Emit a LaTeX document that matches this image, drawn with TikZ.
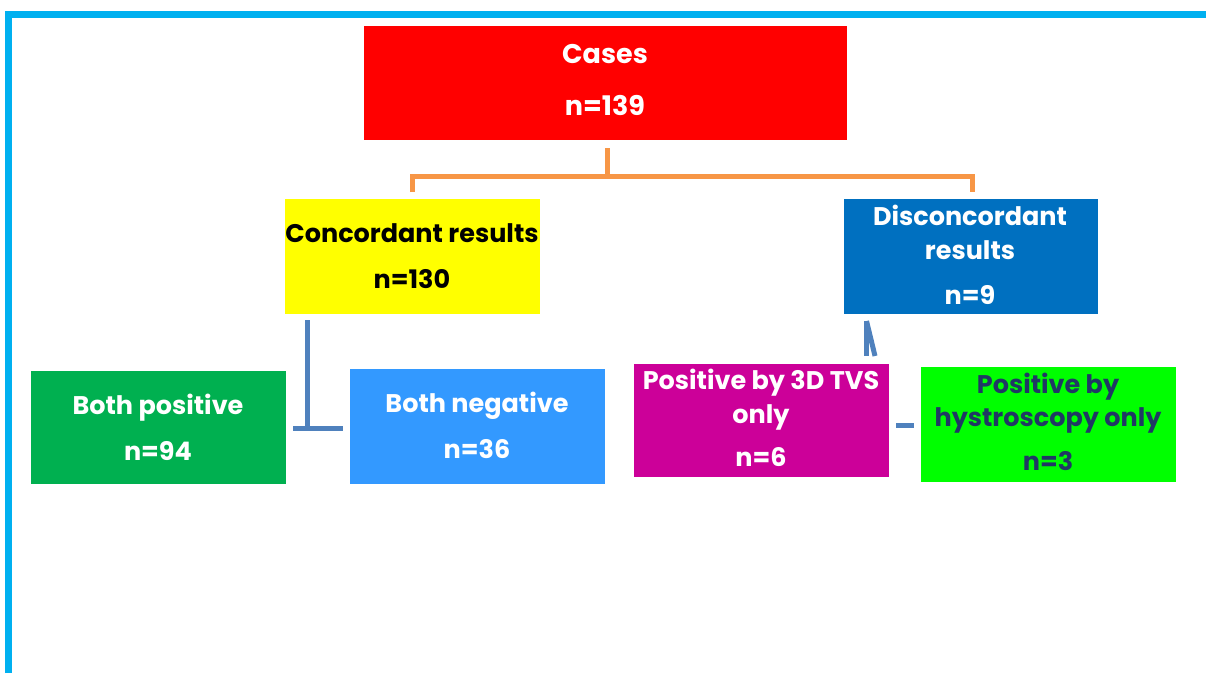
\documentclass[tikz,border=0pt]{standalone}
\usepackage{fontspec}
\setmainfont{Poppins}
\definecolor{frameblue}{HTML}{00B0F0}
\definecolor{casered}{HTML}{FF0000}
\definecolor{concyellow}{HTML}{FFFF00}
\definecolor{discblue}{HTML}{0070C0}
\definecolor{bpgreen}{HTML}{00B050}
\definecolor{bnblue}{HTML}{3399FF}
\definecolor{tvsmag}{HTML}{CC0099}
\definecolor{hysgreen}{HTML}{00FF00}
\definecolor{linkorange}{HTML}{F79646}
\definecolor{linkblue}{HTML}{4F81BD}
\definecolor{darktext}{HTML}{203864}
\tikzset{
  boxnode/.style={draw=none, anchor=north west, inner sep=0pt, outer sep=0pt},
  lbl/.style={font=\bfseries\fontsize{25.5}{30}\selectfont, anchor=base, inner sep=0pt},
  biglbl/.style={lbl, font=\bfseries\fontsize{27}{32}\selectfont},
  orangelink/.style={draw=linkorange, line width=5pt},
  bluelink/.style={draw=linkblue, line width=5pt},
}
\begin{document}
\begin{tikzpicture}[x=1pt,y=-1pt]
\useasboundingbox (0,0) rectangle (1206,673);
% frame
\draw[frameblue, line width=7pt] (8.5,673) -- (8.5,14.5) -- (1206,14.5);
% boxes
\node[boxnode, fill=casered, minimum width=483pt, minimum height=114pt] (cases) at (364,26) {};
\node[boxnode, fill=concyellow, minimum width=255pt, minimum height=115pt] (conc) at (285,199) {};
\node[boxnode, fill=discblue, minimum width=254pt, minimum height=115pt] (disc) at (844,199) {};
\node[boxnode, fill=bpgreen, minimum width=255pt, minimum height=113pt] (bpos) at (31,371) {};
\node[boxnode, fill=bnblue, minimum width=255pt, minimum height=115pt] (bneg) at (350,369) {};
\node[boxnode, fill=tvsmag, minimum width=255pt, minimum height=113pt] (tvs) at (634,364) {};
\node[boxnode, fill=hysgreen, minimum width=255pt, minimum height=115pt] (hys) at (921,367) {};
% texts
\node[biglbl, text=white] (t1) at (605,63) {Cases};
\node[biglbl, text=white] (t2) at (605,115) {n=139};
\node[lbl, text=black] (t3) at (412,242) {Concordant results};
\node[lbl, text=black] (t4) at (412,288) {n=130};
\node[lbl, text=white] (t5) at (970,225) {Disconcordant};
\node[lbl, text=white] (t6) at (970,259) {results};
\node[lbl, text=white] (t7) at (970,304) {n=9};
\node[lbl, text=white] (t8) at (158,414) {Both positive};
\node[lbl, text=white] (t9) at (158,460) {n=94};
\node[lbl, text=white] (t10) at (477,412) {Both negative};
\node[lbl, text=white] (t11) at (477,458) {n=36};
\node[lbl, text=white] (t12) at (761,389) {Positive by 3D TVS};
\node[lbl, text=white] (t13) at (761,423) {only};
\node[lbl, text=white] (t14) at (761,466) {n=6};
\node[lbl, text=darktext] (t15) at (1048,393) {Positive by};
\node[lbl, text=darktext] (t16) at (1048,426) {hystroscopy only};
\node[lbl, text=darktext] (t17) at (1048,470) {n=3};
% connector coordinates
\coordinate (oStem) at (607,148);
\coordinate (oMid) at (607,176);
\coordinate (oL) at (412,176);
\coordinate (oLd) at (412,192);
\coordinate (oR) at (972,176);
\coordinate (oRd) at (972,192);
\draw[orangelink] (oStem) -- (oMid);
\draw[orangelink, line join=miter] (oLd) -- (oL) -- (oR) -- (oRd);
\coordinate (bTop) at (307,320);
\coordinate (bBot) at (307,428);
\coordinate (bLeft) at (293,428);
\coordinate (bRight) at (343,428);
\draw[bluelink] (bTop) -- (bBot);
\draw[bluelink] (bLeft) -- (bRight);
\coordinate (rTop) at (866.5,321);
\coordinate (rBotA) at (866.5,356);
\coordinate (rBotB) at (875,356);
\draw[bluelink] (rTop) -- (rBotA);
\draw[bluelink] (rTop) -- (rBotB);
\coordinate (sL) at (896,425);
\coordinate (sR) at (914,425);
\draw[bluelink] (sL) -- (sR);
\end{tikzpicture}
\end{document}
